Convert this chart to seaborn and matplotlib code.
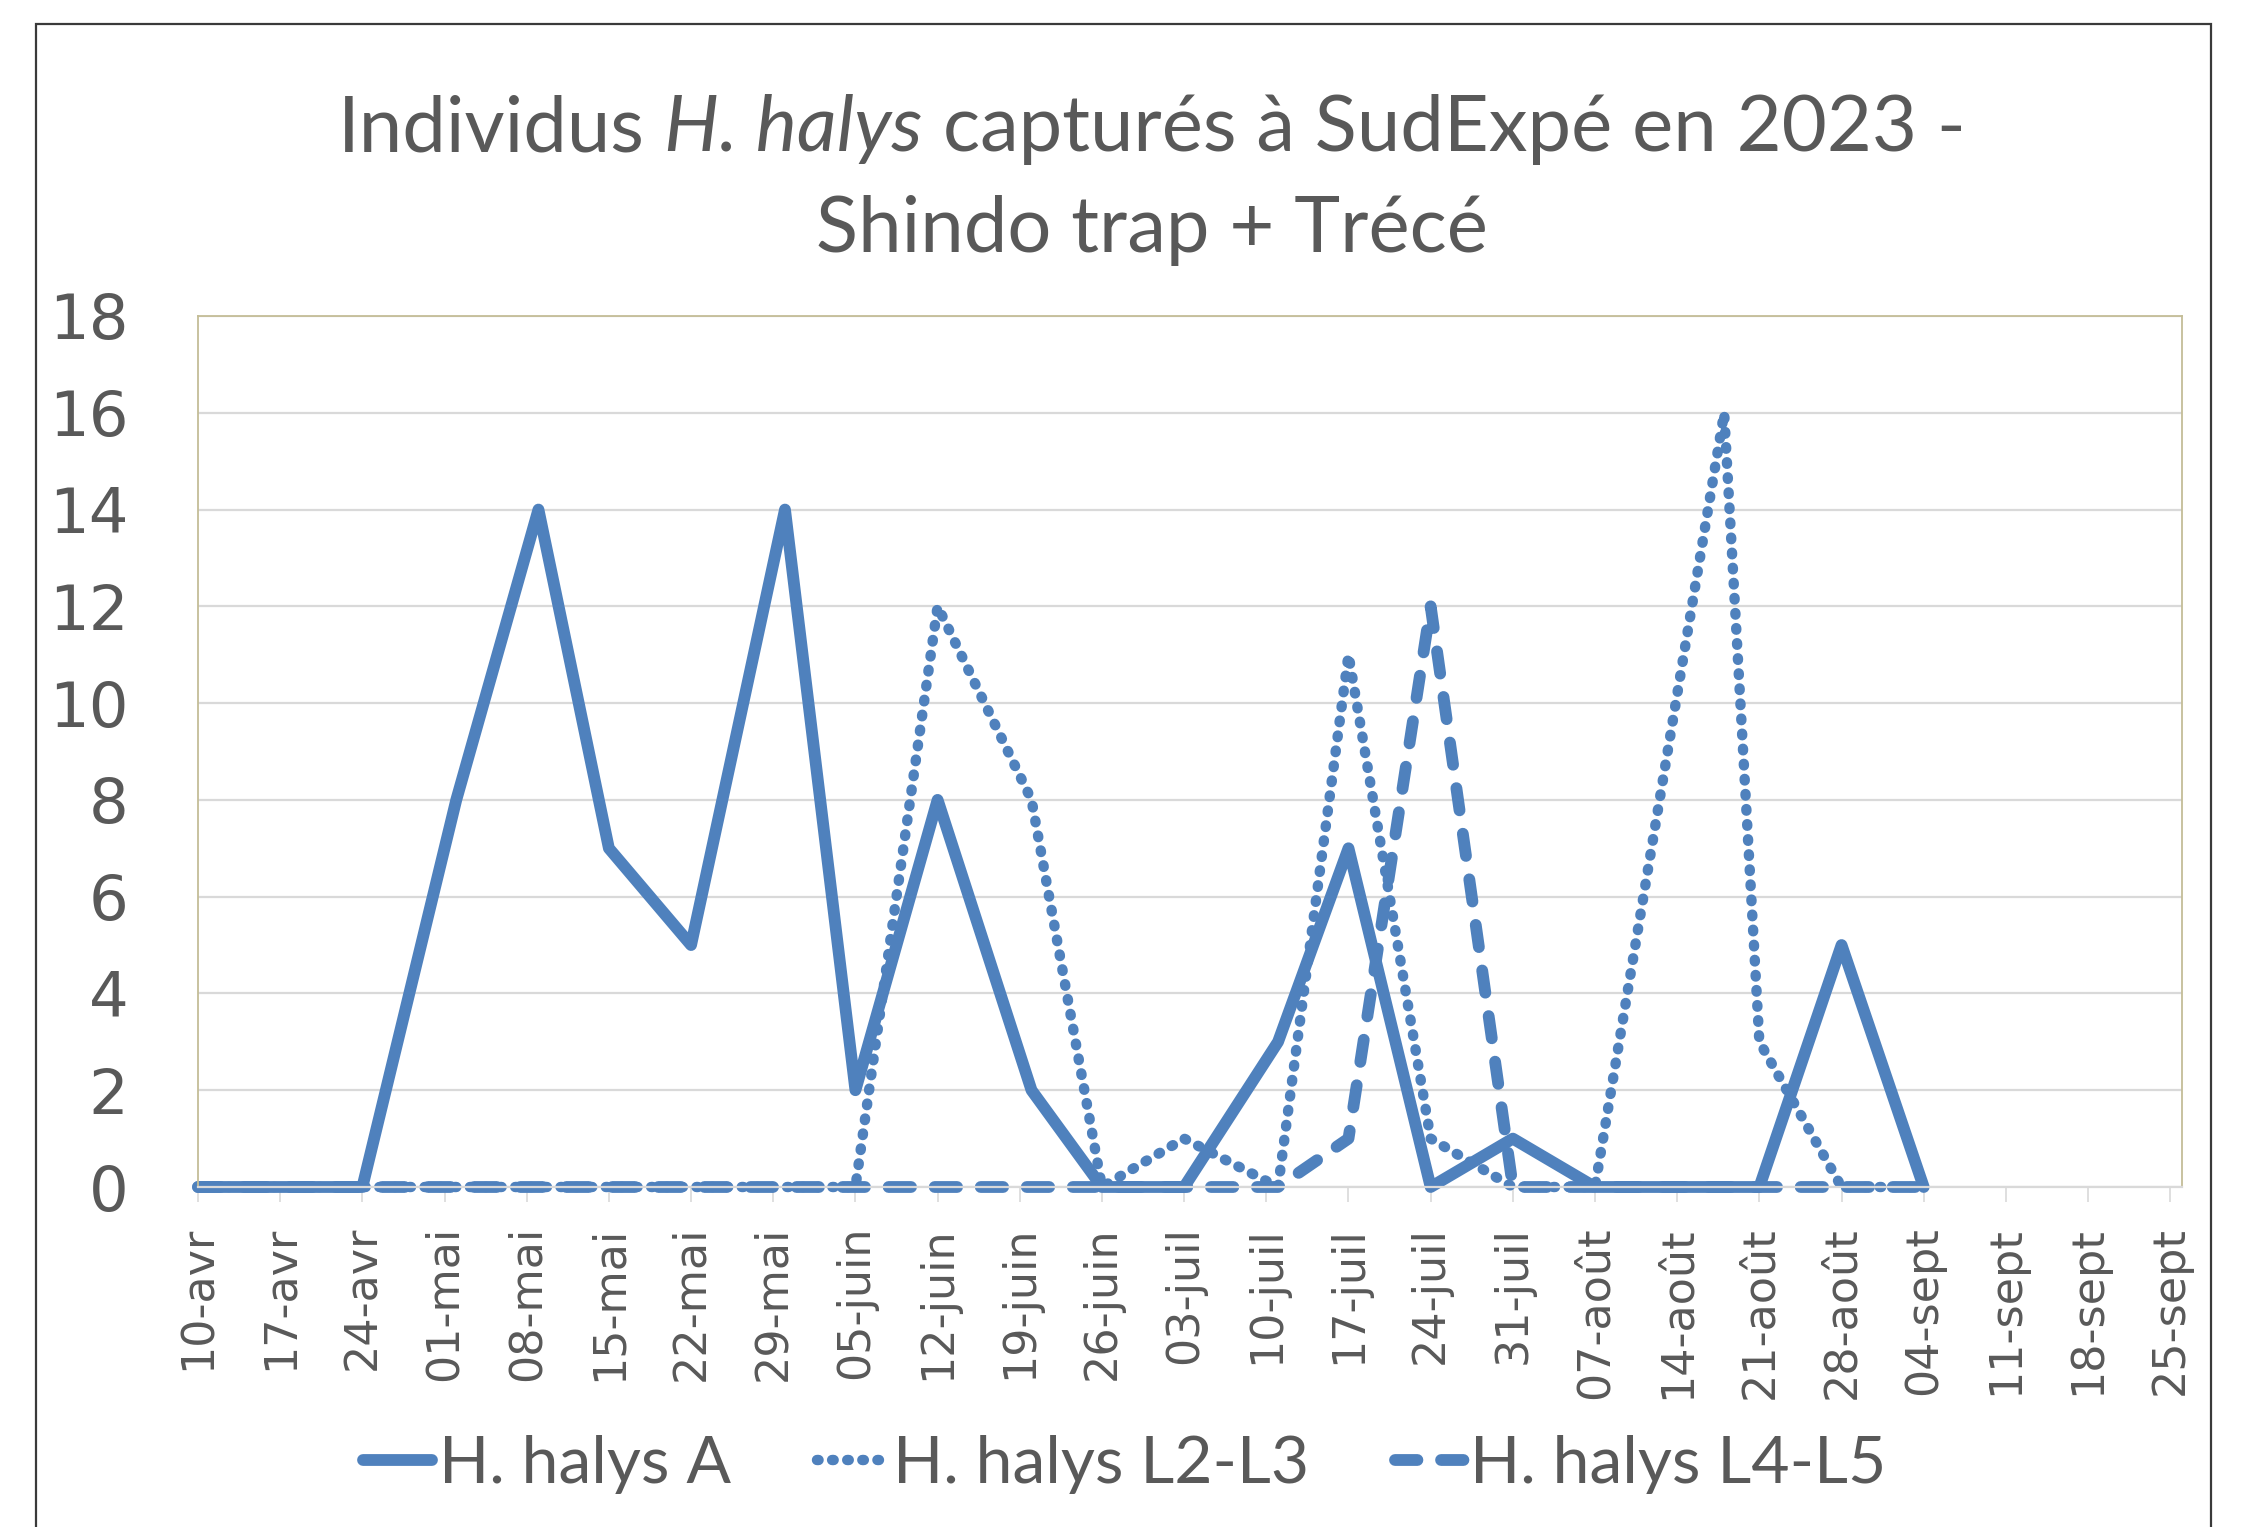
import matplotlib
matplotlib.use("Agg")
import matplotlib.pyplot as plt
import seaborn as sns
import pandas as pd
from matplotlib.patches import Rectangle

# ---------------- data ----------------
sample_dates = ["2023-04-10", "2023-04-17", "2023-04-24", "2023-05-02", "2023-05-09",
                "2023-05-15", "2023-05-22", "2023-05-30", "2023-06-05", "2023-06-12",
                "2023-06-20", "2023-06-26", "2023-07-03", "2023-07-11", "2023-07-17",
                "2023-07-24", "2023-07-31", "2023-08-07", "2023-08-18", "2023-08-21",
                "2023-08-28", "2023-09-04"]
adults = [0, 0, 0, 8, 14, 7, 5, 14, 2, 8, 2, 0, 0, 3, 7, 0, 1, 0, 0, 0, 5, 0]
l2_l3 = [0, 0, 0, 0, 0, 0, 0, 0, 0, 12, 8, 0, 1, 0, 11, 1, 0, 0, 16, 3, 0, 0]
l4_l5 = [0, 0, 0, 0, 0, 0, 0, 0, 0, 0, 0, 0, 0, 0, 1, 12, 0, 0, 0, 0, 0, 0]
series_names = ["H. halys A", "H. halys L2-L3", "H. halys L4-L5"]

tick_labels = ["10-avr", "17-avr", "24-avr", "01-mai", "08-mai", "15-mai", "22-mai",
               "29-mai", "05-juin", "12-juin", "19-juin", "26-juin", "03-juil",
               "10-juil", "17-juil", "24-juil", "31-juil", "07-août", "14-août",
               "21-août", "28-août", "04-sept", "11-sept", "18-sept", "25-sept"]
y_ticks = [0, 2, 4, 6, 8, 10, 12, 14, 16, 18]

title_1 = ["Individus", "H. halys", "capturés à SudExpé en 2023 -"]
title_2 = "Shindo trap + Trécé"

# ---------------- style ----------------
sns.set_style("white")
plt.rcParams["font.family"] = ["DejaVu Sans"]

BLUE = "#4F81BD"
GREY_TXT = "#595959"
GRID = "#D9D9D9"
FRAME = "#C4BD97"
TITLE_FONT = ["Lato", "DejaVu Sans"]
LW = {series_names[0]: 8.5, series_names[1]: 7.5, series_names[2]: 8.5}

W, H = 2257, 1527
fig = plt.figure(figsize=(W / 100, H / 100), dpi=100, facecolor="white")
ax = fig.add_axes([198 / W, 1 - 1187 / H, (2182 - 198) / W, (1187 - 316) / H])

frames = []
for name, vals in zip(series_names, [adults, l2_l3, l4_l5]):
    frames.append(pd.DataFrame({"date": pd.to_datetime(sample_dates),
                                "count": vals, "series": name}))
df = pd.concat(frames, ignore_index=True)

dash_map = {series_names[0]: "",
            series_names[1]: (0.15, 1.3),
            series_names[2]: (1.9, 2.0)}

sns.lineplot(data=df, x="date", y="count", hue="series", style="series",
             hue_order=series_names, style_order=series_names,
             palette=[BLUE] * 3, dashes=dash_map, linewidth=8,
             estimator=None, errorbar=None, ax=ax, legend=True, clip_on=False)


def style_line(line, name):
    line.set_linewidth(LW[name])
    line.set_color(BLUE)
    if dash_map[name]:
        line.set_dashes(dash_map[name])
    line.set_dash_capstyle("round")
    line.set_solid_capstyle("round")
    line.set_dash_joinstyle("round")
    line.set_solid_joinstyle("round")


for ln, name in zip(ax.lines, series_names):
    style_line(ln, name)

# ---------------- axes ----------------
tick_dates = pd.date_range("2023-04-10", periods=len(tick_labels), freq="7D")
ax.set_xlim(pd.Timestamp("2023-04-10"), pd.Timestamp("2023-09-26"))
ax.set_ylim(0, 18)
ax.set_xticks(tick_dates)
ax.set_xticklabels(tick_labels, rotation=90)
ax.set_yticks(y_ticks)
ax.set_yticklabels([str(v) for v in y_ticks])
ax.set_xlabel("")
ax.set_ylabel("")

ax.yaxis.grid(True, color=GRID, linewidth=1.6)
ax.xaxis.grid(False)
ax.set_axisbelow(True)
for side in ["left", "top", "right"]:
    ax.spines[side].set_color(FRAME)
    ax.spines[side].set_linewidth(1.3)
ax.spines["bottom"].set_color(GRID)
ax.spines["bottom"].set_linewidth(1.6)

ax.tick_params(axis="x", length=11, width=1.2, color=GRID, labelsize=32,
               labelcolor=GREY_TXT, pad=17, bottom=True)
ax.tick_params(axis="y", length=0, labelsize=45, labelcolor=GREY_TXT, pad=50)

# ---------------- legend ----------------
old = ax.get_legend()
handles = list(old.legend_handles)
labels = [t.get_text() for t in old.get_texts()]
old.remove()
pairs = [(h, l) for h, l in zip(handles, labels) if l in series_names]
for h, l in pairs:
    style_line(h, l)
leg = fig.legend([p[0] for p in pairs], [p[1] for p in pairs],
                 loc="center", bbox_to_anchor=(0.4984, 0.041), ncol=3,
                 frameon=False, handlelength=1.05, handletextpad=0.1,
                 columnspacing=1.3, prop={"family": TITLE_FONT, "size": 47.5})
for t in leg.get_texts():
    t.set_color(GREY_TXT)

# ---------------- title ----------------
renderer = fig.canvas.get_renderer()
TSIZE = 56


def text_width(s, style="normal"):
    t = fig.text(0, 0, s, fontsize=TSIZE, family=TITLE_FONT, style=style)
    w = t.get_window_extent(renderer).width
    t.remove()
    return w


space = text_width("n n") - text_width("nn")
styles = ["normal", "italic", "normal"]
widths = [text_width(s, st) for s, st in zip(title_1, styles)]
total = sum(widths) + space * (len(widths) - 1)
cx = 1151.5
x = cx - total / 2
y1 = 1 - 151 / H
for s, st, w in zip(title_1, styles, widths):
    fig.text(x / W, y1, s, fontsize=TSIZE, family=TITLE_FONT, style=st,
             color=GREY_TXT, ha="left", va="baseline")
    x += w + space
fig.text(cx / W, 1 - 252 / H, title_2, fontsize=TSIZE, family=TITLE_FONT,
         color=GREY_TXT, ha="center", va="baseline")

# outer chart border
fig.patches.append(Rectangle((36 / W, -0.05), (2211 - 36) / W, 1.05 - 24 / H,
                             transform=fig.transFigure, fill=False,
                             edgecolor="#3A3A3A", linewidth=1.6, clip_on=False))

fig.savefig("out.png", dpi=100, facecolor="white")
